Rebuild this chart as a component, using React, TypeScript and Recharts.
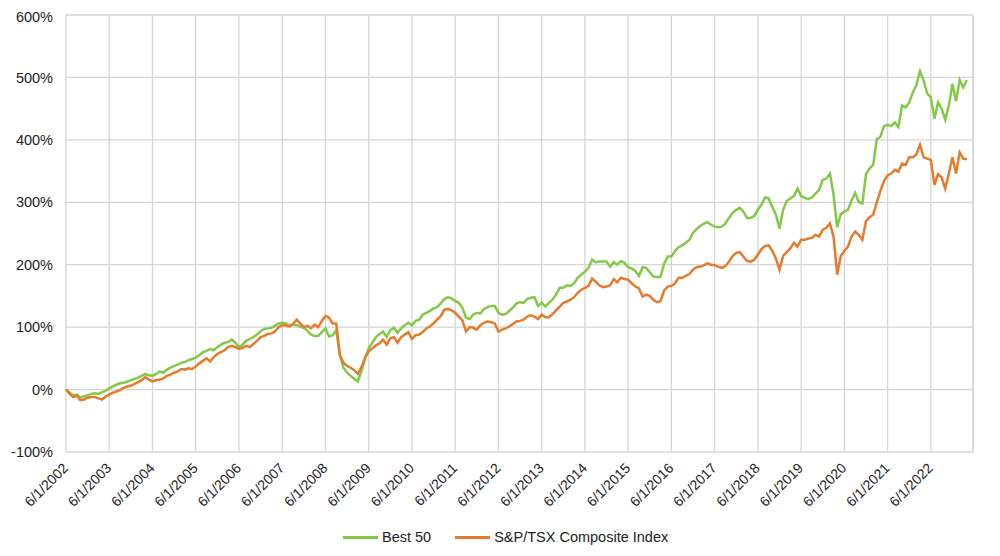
import { LineChart, Line, XAxis, YAxis, CartesianGrid, ReferenceLine } from 'recharts';

// monthly cumulative returns (%), Jun 2002 .. Apr 2023
const best50 = [
  0, -5, -9, -8, -13, -11, -9, -7, -6, -7, -4, -2, 2,
  5, 8, 10, 11, 13, 15, 17, 19, 22, 25, 23, 22,
  25, 29, 27, 32, 35, 38, 40, 43, 44, 47, 49, 51,
  55, 60, 62, 65, 63, 68, 72, 75, 76, 80, 75, 68,
  72, 78, 81, 84, 88, 93, 97, 98, 99, 102, 106, 107,
  106, 103, 104, 103, 101, 99, 94, 88, 86, 86, 92, 98,
  85, 87, 95, 55, 35, 27, 22, 17, 13, 30, 50, 66,
  75, 84, 89, 93, 84, 95, 99, 91, 98, 103, 107, 103,
  110, 112, 120, 123, 126, 130, 132, 138, 145, 148, 146, 142,
  139, 131, 115, 113, 120, 123, 122, 129, 132, 134, 134, 123,
  120, 121, 126, 131, 138, 140, 139, 145, 147, 148, 134, 139,
  133, 139, 144, 152, 163, 163, 167, 166, 170, 179, 184, 189,
  195, 208, 204, 205, 205, 205, 197, 204, 200, 206, 203, 196,
  194, 190, 182, 196, 195, 188, 181, 180, 181, 202, 213, 213,
  222, 228, 231, 235, 240, 251, 257, 262, 266, 268, 264, 261,
  260, 261, 266, 275, 283, 288, 291, 285, 275, 275, 278, 288,
  296, 308, 306, 293, 280, 258, 288, 302, 306, 310, 322, 310,
  307, 305, 308, 314, 320, 336, 338, 346, 312, 260, 281, 285,
  288, 303, 315, 300, 298, 345, 354, 360, 401, 405, 422, 424,
  422, 428, 421, 455, 452, 460, 476, 488, 510, 495, 474, 468,
  434, 460, 450, 432, 455, 490, 462, 496, 484, 496,
];

const tsx = [
  0, -7, -12, -10, -17, -16, -13, -12, -12, -14, -16, -11, -8,
  -5, -3, -1, 3, 5, 6, 9, 12, 15, 20, 16, 13,
  15, 16, 18, 22, 24, 27, 29, 33, 32, 34, 33, 37,
  42, 46, 50, 45, 52, 57, 60, 63, 68, 70, 68, 65,
  67, 70, 68, 73, 78, 84, 86, 89, 90, 93, 100, 103,
  103, 101, 105, 112, 106, 100, 102, 98, 104, 100, 110, 118,
  115, 106, 106, 55, 43, 38, 35, 31, 25, 36, 51, 61,
  66, 71, 74, 80, 72, 82, 84, 75, 84, 88, 92, 81,
  87, 88, 92, 98, 101, 106, 112, 118, 128, 129, 127, 123,
  117, 111, 93, 100, 99, 96, 103, 107, 109, 108, 106, 93,
  96, 98, 101, 105, 109, 110, 112, 117, 119, 117, 113, 120,
  116, 116, 121, 127, 133, 139, 141, 144, 148, 155, 160, 163,
  166, 178, 173, 167, 164, 165, 167, 177, 172, 179, 177, 176,
  170, 165, 162, 149, 152, 150, 144, 140, 142, 159, 165, 166,
  170, 179, 179, 182, 185, 192, 196, 197, 199, 202, 200, 199,
  197, 195, 198, 205, 214, 219, 220, 213, 206, 205, 208, 216,
  225, 230, 231, 222, 210, 192, 214, 220, 226, 235, 229, 240,
  240, 242, 243, 248, 245, 256, 259, 266, 245, 184, 214, 222,
  229, 245, 253, 248, 240, 270, 276, 280, 300, 318, 334, 343,
  346, 352, 349, 362, 360, 372, 372, 377, 392, 372, 370, 368,
  328, 345, 340, 322, 346, 372, 346, 380, 370, 369,
];

const yearLabels = [
  '6/1/2002', '6/1/2003', '6/1/2004', '6/1/2005', '6/1/2006', '6/1/2007',
  '6/1/2008', '6/1/2009', '6/1/2010', '6/1/2011', '6/1/2012', '6/1/2013',
  '6/1/2014', '6/1/2015', '6/1/2016', '6/1/2017', '6/1/2018', '6/1/2019',
  '6/1/2020', '6/1/2021', '6/1/2022',
];

const yTicks = [-100, 0, 100, 200, 300, 400, 500, 600];

const data = best50.map((v, i) => ({ m: i, best: v, tsx: tsx[i] }));
const xTicks = yearLabels.map((_, i) => i * 12);
const X_MAX = 251.7;

const GREEN = '#84c84a';
const ORANGE = '#e57b2c';
const GRID = '#d6d6d6';
const FONT = '"Liberation Sans", Arial, sans-serif';

const YearTick = (props: any) => {
  const { x, y, payload } = props;
  const label = yearLabels[Math.round(payload.value / 12)] ?? '';
  return (
    <g transform={`translate(${x + 3},${y + 15})`}>
      <text textAnchor="end" transform="rotate(-45)" fontSize={14} fill="#222" fontFamily={FONT}>
        {label}
      </text>
    </g>
  );
};

const LegendItem = ({ color, label }: { color: string; label: string }) => (
  <div style={{ display: 'flex', alignItems: 'center', marginRight: 24 }}>
    <div style={{ width: 35, height: 3, background: color, marginRight: 4 }} />
    <span>{label}</span>
  </div>
);

export default function App() {
  return (
    <div style={{ position: 'relative', width: 984, height: 540, fontFamily: FONT }}>
      <LineChart width={984} height={510} data={data} margin={{ top: 7, right: 19, left: 0, bottom: 0 }}>
        <CartesianGrid stroke={GRID} strokeWidth={1.3} />
        <ReferenceLine x={X_MAX} stroke={GRID} strokeWidth={1.3} />
        <XAxis
          dataKey="m"
          type="number"
          domain={[0, X_MAX]}
          ticks={xTicks}
          interval={0}
          tick={<YearTick />}
          tickLine={false}
          axisLine={false}
          tickSize={0}
          height={66}
        />
        <YAxis
          domain={[-100, 600]}
          ticks={yTicks}
          tickFormatter={(v: number) => `${v}%`}
          tick={{ fontSize: 14.5, fill: '#222', fontFamily: FONT }}
          tickLine={false}
          axisLine={false}
          tickSize={0}
          tickMargin={13}
          width={58}
        />
        <Line type="linear" dataKey="best" stroke={GREEN} strokeWidth={2.5} dot={false} isAnimationActive={false} />
        <Line type="linear" dataKey="tsx" stroke={ORANGE} strokeWidth={2.5} dot={false} isAnimationActive={false} />
      </LineChart>
      <div
        style={{
          position: 'absolute',
          left: 335,
          top: 520,
          height: 18,
          display: 'flex',
          alignItems: 'center',
          fontSize: 14.5,
          color: '#222',
          whiteSpace: 'nowrap',
        }}
      >
        <LegendItem color={GREEN} label="Best 50" />
        <LegendItem color={ORANGE} label="S&P/TSX Composite Index" />
      </div>
    </div>
  );
}
